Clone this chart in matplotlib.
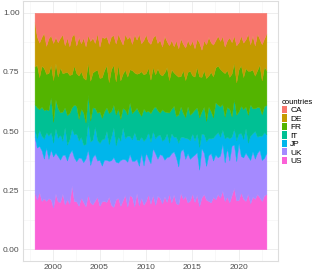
import numpy as np
import pandas as pd
import matplotlib
matplotlib.use('Agg')
import matplotlib.pyplot as plt
from matplotlib.patches import Patch

plt.rcParams['font.family'] = ['Liberation Sans', 'DejaVu Sans']

dates = pd.date_range('1998-01-01', periods=101, freq='QS')

US = [24,21,25,20,23,19,22,20,18,23, 21,19,23,18,22,19,27,21,19,18,
      22,19,18,22,20,18,21,23,18,20, 21,18,22,19,17,21,22,18,20,23,
      18,21,22,18,23,19,22,18,20,23, 19,22,18,23,21,19,23,20,24,19,
      23,20,19,24,21,23,19,21,24,20, 23,19,21,24,22,20,19,23,20,24,
      22,25,20,23,19,24,27,21,20,25, 22,20,24,19,23,20,24,22,20,23,24]
UK = [24,22,20,21,18,21,17,20,22,17, 20,17,16,20,17,21,15,19,16,20,
      17,16,20,18,16,19,20,16,19,15, 18,16,15,19,20,16,15,19,17,15,
      19,16,15,19,14,17,19,16,20,15, 17,19,21,16,18,20,16,19,16,20,
      18,20,16,18,21,16,20,18,16,20, 18,16,20,18,15,19,20,16,18,16,
      18,20,16,21,17,22,19,17,23,16, 18,20,16,18,20,16,18,20,17,16,18]
JP = [3,4,7,6,9,6,10,7,6,10, 8,10,6,11,7,6,9,10,11,7,
      9,7,6,11,10,7,12,9,7,11, 9,11,7,10,12,7,11,8,13,9,
      11,7,9,12,8,11,7,10,6,11, 9,7,6,10,8,6,9,10,6,8,
      6,9,10,6,5,9,6,8,10,6, 8,10,6,8,11,7,6,10,8,11,
      8,6,10,5,9,4,7,9,4,10, 8,10,6,10,8,11,7,6,10,11,8]
IT = [11,13,9,12,13,9,11,14,9,12, 13,9,12,8,13,11,9,13,11,9,
      12,13,9,11,9,13,8,12,13,9, 12,9,13,11,9,13,12,9,8,12,
      9,13,11,9,13,12,9,13,11,9, 12,9,13,11,9,13,12,9,13,10,
      13,9,12,13,10,9,13,11,9,13, 11,13,9,12,9,13,11,9,13,12,
      13,11,9,13,12,9,13,11,9,12, 13,9,12,13,11,9,13,12,9,11,13]
FR = [16,18,14,17,19,14,16,13,18,15, 14,18,16,14,19,16,14,17,13,18,
      16,14,18,13,17,14,16,19,14,17, 18,16,13,18,16,14,19,16,14,17,
      16,13,18,16,14,17,19,14,16,18, 14,17,13,18,16,14,17,19,14,16,
      14,18,16,13,18,16,14,19,16,14, 17,18,14,16,19,13,16,18,14,17,
      16,14,18,16,13,19,16,14,17,18, 14,16,19,14,17,13,16,18,14,17,15]
DE = [19,12,15,12,16,11,15,12,16,11, 15,12,16,11,15,12,16,14,11,16,
      12,16,14,11,17,14,12,16,13,17, 14,11,16,14,12,16,13,17,12,15,
      16,13,11,16,14,17,12,14,16,11, 15,12,16,11,14,12,16,11,15,12,
      11,15,12,16,11,14,13,11,15,12, 12,15,11,13,15,16,12,14,11,13,
      12,15,11,13,16,14,12,16,11,13, 15,12,16,11,15,12,16,11,15,12,16]
CA = [4,10,13,10,9,13,11,9,13,10, 13,10,9,13,11,14,10,9,13,10,
      13,10,14,9,12,10,13,9,14,10, 11,9,13,10,9,13,9,11,13,9,
      11,9,13,9,11,9,13,11,9,12, 13,10,9,13,11,14,10,12,14,11,
      14,12,15,11,13,15,11,14,12,15, 11,13,15,12,14,10,12,14,11,10,
      12,10,14,12,10,13,10,14,12,10, 13,11,9,13,10,13,9,11,13,11,9]

countries = ['US', 'UK', 'JP', 'IT', 'FR', 'DE', 'CA']
colors = ['#FB61D7', '#A58AFF', '#00B6EB', '#00C094', '#53B400', '#C49A00', '#F8766D']

vals = np.array([US, UK, JP, IT, FR, DE, CA], dtype=float)
shares = vals / vals.sum(axis=0)

fig = plt.figure(figsize=(3.15, 2.76), dpi=100)
ax = fig.add_axes([23/315, 15/276, 255/315, 260/276])

polys = ax.stackplot(dates, shares, colors=colors, labels=countries)
for p, c in zip(polys, colors):
    p.set_edgecolor(c)
    p.set_linewidth(0.3)

span = dates[-1] - dates[0]
ax.set_xlim(dates[0] - span * 0.05, dates[-1] + span * 0.05)
ax.set_ylim(-0.05, 1.05)

ax.set_yticks([0, 0.25, 0.5, 0.75, 1.0])
ax.set_yticklabels(['0.00', '0.25', '0.50', '0.75', '1.00'])
ax.set_yticks([0.125, 0.375, 0.625, 0.875], minor=True)
xt = pd.to_datetime(['2000-01-01', '2005-01-01', '2010-01-01', '2015-01-01', '2020-01-01'])
ax.set_xticks(xt)
ax.set_xticklabels(['2000', '2005', '2010', '2015', '2020'])
ax.set_xticks(pd.to_datetime(['1997-07-01', '2002-07-01', '2007-07-01', '2012-07-01', '2017-07-01', '2022-07-01']), minor=True)

ax.grid(True, which='major', color='#EBEBEB', linewidth=0.6)
ax.grid(True, which='minor', color='#F4F4F4', linewidth=0.4)
ax.set_axisbelow(True)
ax.tick_params(which='both', length=0, labelsize=6, labelcolor='#4D4D4D', pad=2.5)
for s in ax.spines.values():
    s.set_color('#DDDDDD')
    s.set_linewidth(0.8)

handles = [Patch(facecolor=c, edgecolor='none') for c in colors][::-1]
leg = fig.legend(handles, countries[::-1], loc='upper left', bbox_to_anchor=(282/315, 1 - 99/276),
                 title='countries', fontsize=6, title_fontsize=5.5, frameon=False,
                 handlelength=0.6, handleheight=0.95, labelspacing=0.0, handletextpad=0.4,
                 borderaxespad=0, borderpad=0)
leg._legend_box.align = 'left'

fig.savefig('out.png', dpi=100)
